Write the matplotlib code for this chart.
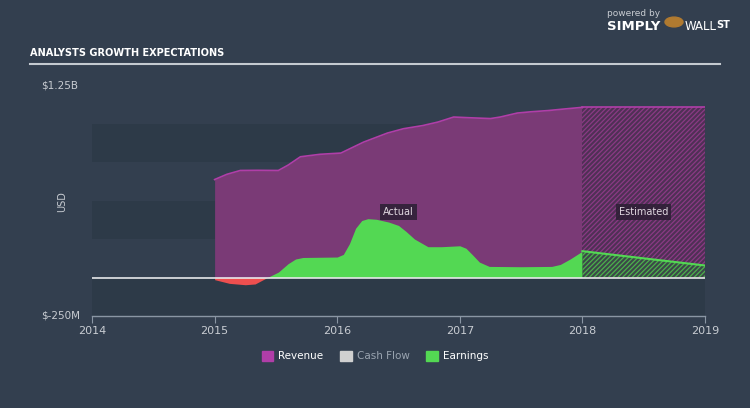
import matplotlib
matplotlib.use('Agg')
import matplotlib.pyplot as plt
import matplotlib.patches as mpatches
from matplotlib.lines import Line2D
from matplotlib import font_manager

# ----------------------------------------------------------------------------
# Datos (millones de USD)
# ----------------------------------------------------------------------------
rev_years = [2015.0, 2015.1, 2015.21, 2015.35, 2015.52, 2015.6, 2015.7, 2015.86,
             2016.03, 2016.215, 2016.41, 2016.54, 2016.70, 2016.82, 2016.95,
             2017.09, 2017.25, 2017.33, 2017.47, 2017.58, 2017.72, 2017.85, 2018.0]
rev_values = [636, 670, 695, 696, 695, 730, 784, 800,
              808, 879, 938, 966, 987, 1009, 1042,
              1037, 1032, 1042, 1068, 1076, 1084, 1094, 1105]

earn_years = [2015.0, 2015.12, 2015.25, 2015.33, 2015.43, 2015.52, 2015.6, 2015.66, 2015.72,
              2016.0, 2016.05, 2016.1, 2016.15, 2016.2, 2016.25, 2016.32, 2016.42, 2016.5,
              2016.56, 2016.63, 2016.74, 2016.85, 2017.0, 2017.05, 2017.1, 2017.16, 2017.24,
              2017.5, 2017.75, 2017.82, 2017.9, 2018.0]
earn_values = [-14, -38, -47, -42, 0, 35, 90, 120, 130,
               133, 150, 220, 320, 370, 382, 378, 360, 338,
               300, 250, 200, 200, 206, 190, 150, 100, 72,
               70, 72, 85, 120, 171]

est_years = [2018.0, 2019.0]
est_revenue = [1105, 1105]
est_earnings = [171, 78]

year_ticks = [2014, 2015, 2016, 2017, 2018, 2019]

# ----------------------------------------------------------------------------
# Colores
# ----------------------------------------------------------------------------
bg = '#333f4f'
band = '#2d3a48'
rev_fill = '#7a3a76'
rev_line = '#b03ea8'
green = '#53d853'
red = '#ee4f4f'
txt = '#c8ccd2'

plt.rcParams['hatch.linewidth'] = 0.9

# fuente estrecha para el titulo, si existe alguna instalada
narrow = None
for f in font_manager.fontManager.ttflist:
    name = (f.name + ' ' + f.fname).lower()
    if ('narrow' in name or 'condensed' in name) and 'bold' in name and 'oblique' not in name \
            and 'italic' not in name:
        narrow = f.fname
        break

fig = plt.figure(figsize=(7.5, 4.08), dpi=100, facecolor=bg)
ax = fig.add_axes([92 / 750, 1 - 316 / 408, 613 / 750, 231 / 408])
ax.set_facecolor(bg)
ax.set_xlim(2014, 2019)
ax.set_ylim(-250, 1250)

# bandas horizontales
for lo, hi in [(-250, 0), (250, 500), (750, 1000)]:
    ax.axhspan(lo, hi, color=band, lw=0, zorder=0)

# ingresos (reales)
ax.fill_between(rev_years, 0, rev_values, color=rev_fill, lw=0, zorder=1)
ax.plot(rev_years, rev_values, color=rev_line, lw=1.2, zorder=3)

# beneficios (reales)
pos = [max(v, 0) for v in earn_values]
neg = [min(v, 0) for v in earn_values]
ax.fill_between(earn_years, 0, pos, color=green, lw=0, zorder=2)
ax.fill_between(earn_years, 0, neg, color=red, lw=0, zorder=2)

# estimados con rayado
ax.fill_between(est_years, 0, est_revenue, facecolor='#4f3055', edgecolor='#8a3a84',
                hatch='///////', lw=0, zorder=1)
ax.plot(est_years, est_revenue, color=rev_line, lw=1.2, zorder=3)
ax.fill_between(est_years, 0, est_earnings, facecolor='#3b4848', edgecolor='#4cb04c',
                hatch='///////', lw=0, zorder=2)
ax.plot(est_years, est_earnings, color=green, lw=1.5, zorder=3)

# linea cero
ax.axhline(0, color='#e6e8ea', lw=1.2, zorder=4)

# etiquetas Actual / Estimated
box = dict(boxstyle='square,pad=0.3', fc='#2b1f33', ec='none', alpha=0.85)
ax.text(2016.5, 425, 'Actual', color='#e0d8e0', fontsize=7, ha='center', va='center',
        bbox=box, zorder=5)
ax.text(2018.5, 425, 'Estimated', color='#e0d8e0', fontsize=7, ha='center', va='center',
        bbox=box, zorder=5)

# ejes
for s in ['top', 'right', 'left']:
    ax.spines[s].set_visible(False)
ax.spines['bottom'].set_color('#8a96a4')
ax.spines['bottom'].set_linewidth(1)
ax.set_xticks(year_ticks)
ax.set_xticklabels([str(y) for y in year_ticks])
ax.tick_params(axis='x', colors='#8a96a4', length=5, labelcolor=txt, labelsize=8, pad=2)
ax.set_yticks([])

fig.text(78 / 750, 1 - 85 / 408, '$1.25B', color=txt, fontsize=7.5, ha='right', va='center')
fig.text(80 / 750, 1 - 315 / 408, '$-250M', color=txt, fontsize=7.5, ha='right', va='center')
fig.text(62 / 750, 1 - 202 / 408, 'USD', color=txt, fontsize=7, rotation=90, ha='center', va='center')

# titulo
if narrow:
    fig.text(30 / 750, 1 - 53 / 408, 'ANALYSTS GROWTH EXPECTATIONS', color='white',
             fontproperties=font_manager.FontProperties(fname=narrow, size=7.8), va='center')
else:
    fig.text(30 / 750, 1 - 53 / 408, 'ANALYSTS GROWTH EXPECTATIONS', color='white', fontsize=7,
             fontweight='bold', va='center')
fig.add_artist(Line2D([30 / 750, 720 / 750], [1 - 64 / 408, 1 - 64 / 408], color='#c4cad0', lw=1.5))

# logo
fig.text(607 / 750, 1 - 14 / 408, 'powered by', color='#c8ccd2', fontsize=6.5, va='center')
fig.text(607 / 750, 1 - 26 / 408, 'SIMPLY', color='white', fontsize=9.5, fontweight='bold', va='center')
fig.add_artist(mpatches.Circle((674 / 750, 1 - 22 / 408), 0.012, transform=fig.transFigure,
                               color='#b07a30'))
fig.text(685 / 750, 1 - 26 / 408, 'WALL', color='white', fontsize=8.5, va='center')
fig.text(716 / 750, 1 - 25 / 408, 'ST', color='white', fontsize=7, fontweight='bold', va='center')

# leyenda
handles = [mpatches.Patch(color=rev_line, label='Revenue'),
           mpatches.Patch(color='#d0d0d0', label='Cash Flow'),
           mpatches.Patch(color=green, label='Earnings')]
leg = fig.legend(handles=handles, loc='center', bbox_to_anchor=(0.5, 1 - 356 / 408), ncol=3,
                 frameon=False, fontsize=7.5, handlelength=1.1, handleheight=1.1,
                 columnspacing=1.6, handletextpad=0.5)
for t, c in zip(leg.get_texts(), ['white', '#9aa4b0', 'white']):
    t.set_color(c)

fig.savefig('out.png', dpi=100, facecolor=bg)
